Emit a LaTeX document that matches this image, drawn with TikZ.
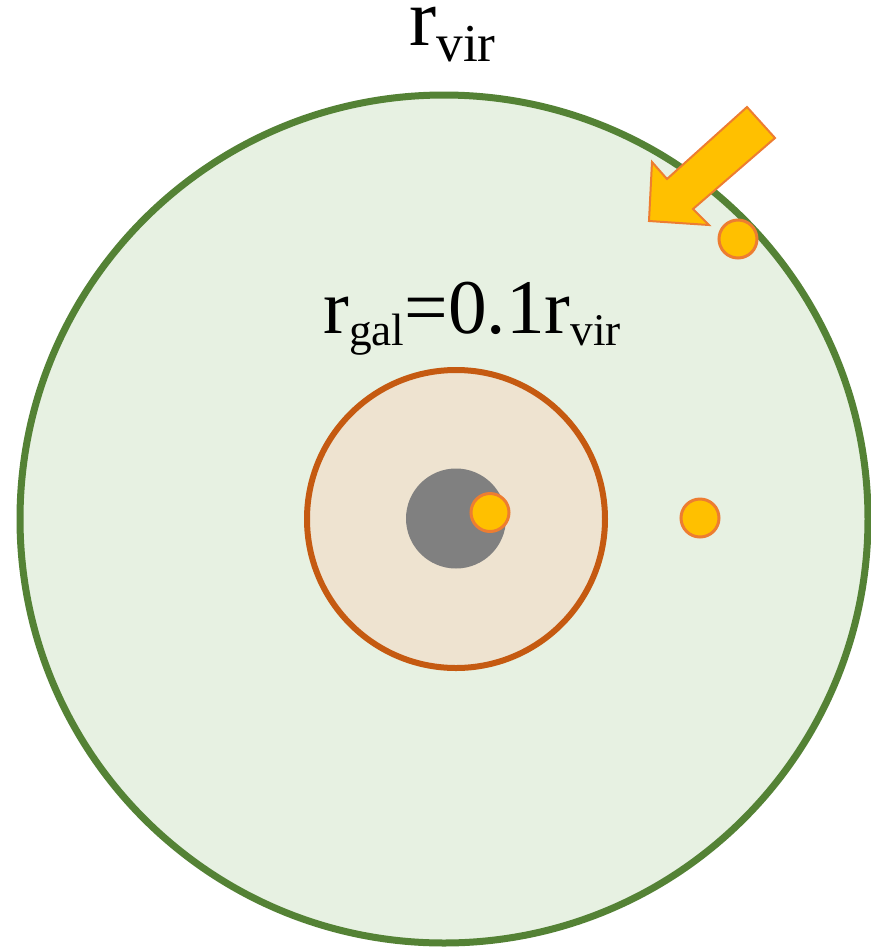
\documentclass[tikz,border=0pt]{standalone}
\usepackage{fontspec}
\setmainfont{Liberation Serif}
\definecolor{halogreen}{HTML}{548235}
\definecolor{halofill}{HTML}{E7F1E2}
\definecolor{galline}{HTML}{C55A11}
\definecolor{galfill}{HTML}{EEE3D0}
\definecolor{coregray}{HTML}{808080}
\definecolor{satfill}{HTML}{FFC000}
\definecolor{satline}{HTML}{ED7D31}
\newcommand{\topsz}{\fontsize{61}{61}\selectfont}
\newcommand{\topsub}{\fontsize{40}{40}\selectfont}
\newcommand{\midsz}{\fontsize{58}{58}\selectfont}
\newcommand{\midsub}{\fontsize{34}{34}\selectfont}
\tikzset{
  sat/.style={fill=satfill,draw=satline,line width=2.25pt},
  lbl/.style={inner sep=0pt,anchor=base west,text=black}
}
\begin{document}
\begin{tikzpicture}[x=0.75pt,y=-0.75pt]
\useasboundingbox (0,0) rectangle (871,951);
\fill[white] (0,0) rectangle (871,951);
% halo
\draw[halogreen,fill=halofill,line width=5.25pt] (444,519) circle (424);
% galaxy
\draw[galline,fill=galfill,line width=4.5pt] (456,519) circle (149);
% core
\fill[coregray] (456,518.5) circle (50);
% satellites
\draw[sat] (490,512.5) circle (19);
\draw[sat] (700,518) circle (19);
\draw[sat] (738,239) circle (19);
% infall arrow
\draw[fill=satfill,draw=satline,line width=1.5pt,line join=miter]
  (649,221) -- (652,162) -- (667,179) -- (747,107) -- (775,138) -- (693,209) -- (709,225) -- cycle;
% labels
\node[lbl] (rvir) at (409,45) {\smash{\topsz r\raisebox{-12pt}{\topsub vir}}};
\node[lbl] (rgal) at (323,333) {\smash{\midsz r\raisebox{-9pt}{\midsub gal}=0.1r\raisebox{-9pt}{\midsub vir}}};
\end{tikzpicture}
\end{document}
